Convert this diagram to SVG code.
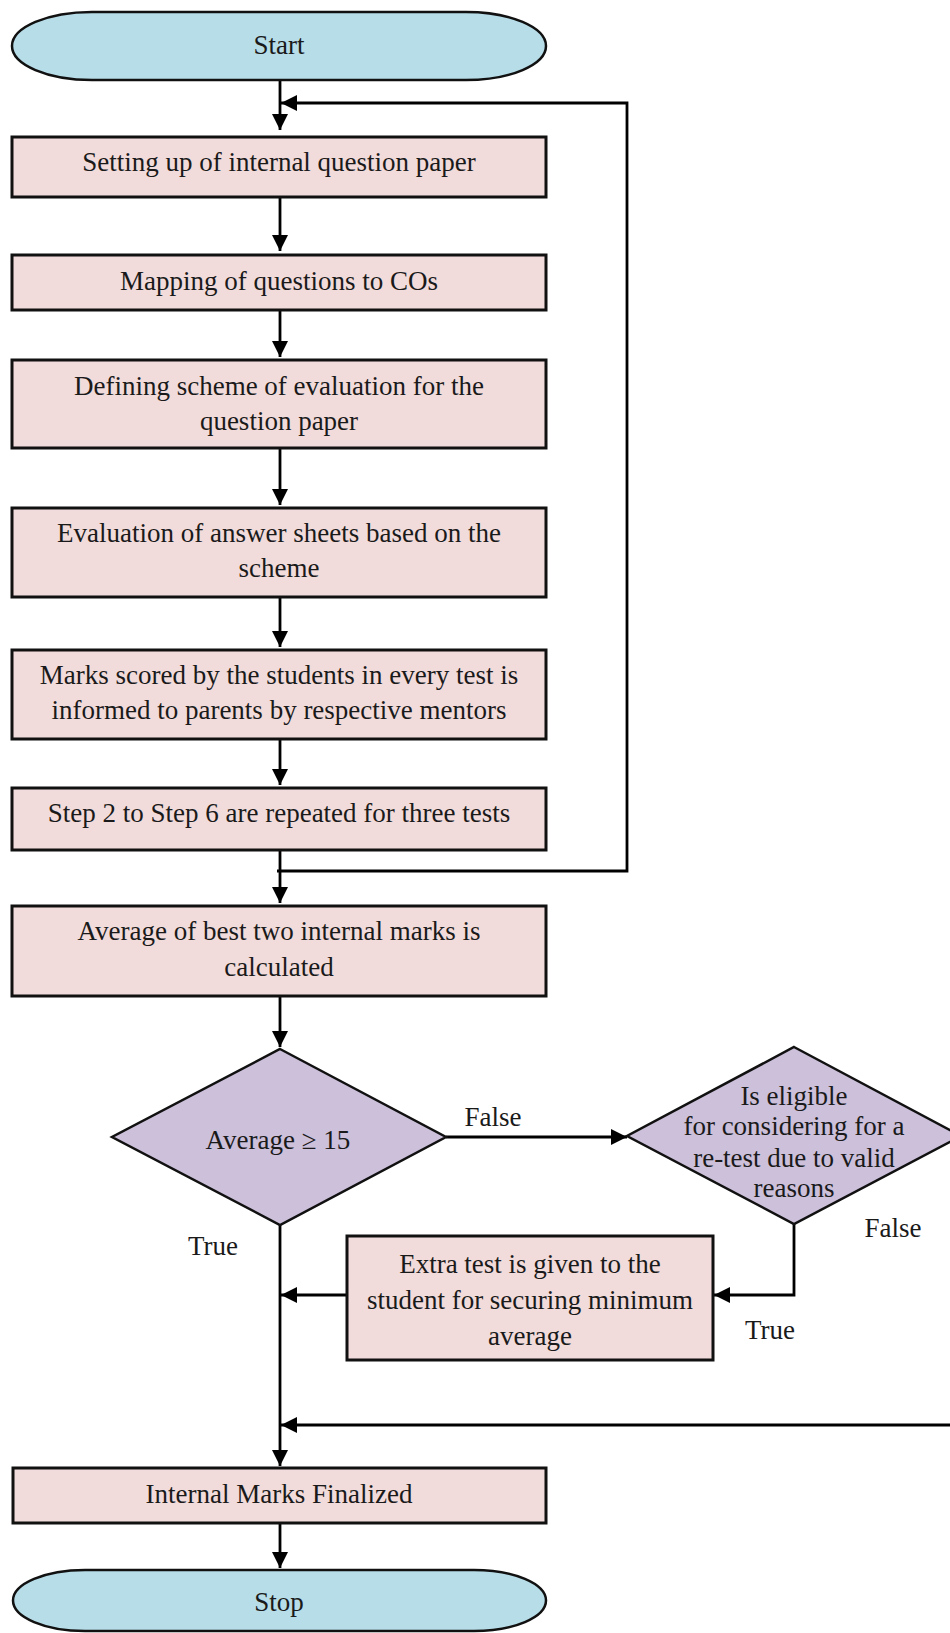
<svg xmlns="http://www.w3.org/2000/svg" width="950" height="1633" viewBox="0 0 950 1633">
<defs>
<style>
.term{fill:#b7dde8;stroke:#111;stroke-width:2.5}
.box{fill:#f2dcdb;stroke:#111;stroke-width:3}
.dec{fill:#ccc0da;stroke:#111;stroke-width:2.5}
.t{font-family:"Liberation Serif","Times New Roman",serif;font-size:27px;fill:#1a1a1a;text-anchor:middle}
.c{fill:none;stroke:#000;stroke-width:2.8}
</style>
<marker id="ah" markerUnits="userSpaceOnUse" markerWidth="18" markerHeight="18" refX="16" refY="8" orient="auto">
<path d="M0,0 L16,8 L0,16 z" fill="#000"/>
</marker>
</defs>
<rect width="950" height="1633" fill="#fff"/>
<g id="connectors">
<path class="c" d="M280,80 V130" marker-end="url(#ah)"/>
<path class="c" d="M277,871 H627 V103 H281" marker-end="url(#ah)"/>
<path class="c" d="M280,197 V251" marker-end="url(#ah)"/>
<path class="c" d="M280,310 V357" marker-end="url(#ah)"/>
<path class="c" d="M280,448 V505" marker-end="url(#ah)"/>
<path class="c" d="M280,597 V647" marker-end="url(#ah)"/>
<path class="c" d="M280,739 V785" marker-end="url(#ah)"/>
<path class="c" d="M280,850 V903" marker-end="url(#ah)"/>
<path class="c" d="M280,996 V1047" marker-end="url(#ah)"/>
<path class="c" d="M446,1137 H627" marker-end="url(#ah)"/>
<path class="c" d="M794,1224 V1295 H714" marker-end="url(#ah)"/>
<path class="c" d="M347,1295 H281" marker-end="url(#ah)"/>
<path class="c" d="M280,1225 V1466" marker-end="url(#ah)"/>
<path class="c" d="M950,1425 H281" marker-end="url(#ah)"/>
<path class="c" d="M280,1523 V1568" marker-end="url(#ah)"/>
</g>
<g id="start">
<rect class="term" x="12" y="12" width="534" height="68" rx="80" ry="34"/>
<text class="t" x="279" y="54">Start</text>
</g>
<g id="step1">
<rect class="box" x="12" y="137" width="534" height="60"/>
<text class="t" x="279" y="171">Setting up of internal question paper</text>
</g>
<g id="step2">
<rect class="box" x="12" y="255" width="534" height="55"/>
<text class="t" x="279" y="290">Mapping of questions to COs</text>
</g>
<g id="step3">
<rect class="box" x="12" y="360" width="534" height="88"/>
<text class="t" x="279" y="395">Defining scheme of evaluation for the</text>
<text class="t" x="279" y="430">question paper</text>
</g>
<g id="step4">
<rect class="box" x="12" y="508" width="534" height="89"/>
<text class="t" x="279" y="542">Evaluation of answer sheets based on the</text>
<text class="t" x="279" y="577">scheme</text>
</g>
<g id="step5">
<rect class="box" x="12" y="650" width="534" height="89"/>
<text class="t" x="279" y="684">Marks scored by the students in every test is</text>
<text class="t" x="279" y="719">informed to parents by respective mentors</text>
</g>
<g id="step6">
<rect class="box" x="12" y="788" width="534" height="62"/>
<text class="t" x="279" y="822">Step 2 to Step 6 are repeated for three tests</text>
</g>
<g id="step7">
<rect class="box" x="12" y="906" width="534" height="90"/>
<text class="t" x="279" y="940">Average of best two internal marks is</text>
<text class="t" x="279" y="976">calculated</text>
</g>
<g id="decision1">
<polygon class="dec" points="280,1049 446,1137 280,1225 112,1137"/>
<text class="t" x="278" y="1149">Average ≥ 15</text>
</g>
<g id="decision2">
<polygon class="dec" points="794,1047 961,1136 794,1224 627,1136"/>
<text class="t" x="794" y="1105">Is eligible</text>
<text class="t" x="794" y="1135">for considering for a</text>
<text class="t" x="794" y="1167">re-test due to valid</text>
<text class="t" x="794" y="1197">reasons</text>
</g>
<g id="extra">
<rect class="box" x="347" y="1236" width="366" height="124"/>
<text class="t" x="530" y="1273">Extra test is given to the</text>
<text class="t" x="530" y="1309">student for securing minimum</text>
<text class="t" x="530" y="1345">average</text>
</g>
<g id="final">
<rect class="box" x="13" y="1468" width="533" height="55"/>
<text class="t" x="279" y="1503">Internal Marks Finalized</text>
</g>
<g id="stop">
<rect class="term" x="13" y="1570" width="533" height="61" rx="72" ry="30.5"/>
<text class="t" x="279" y="1611">Stop</text>
</g>
<g id="labels">
<text class="t" x="493" y="1126">False</text>
<text class="t" x="893" y="1237">False</text>
<text class="t" x="213" y="1255">True</text>
<text class="t" x="770" y="1339">True</text>
</g>
</svg>
